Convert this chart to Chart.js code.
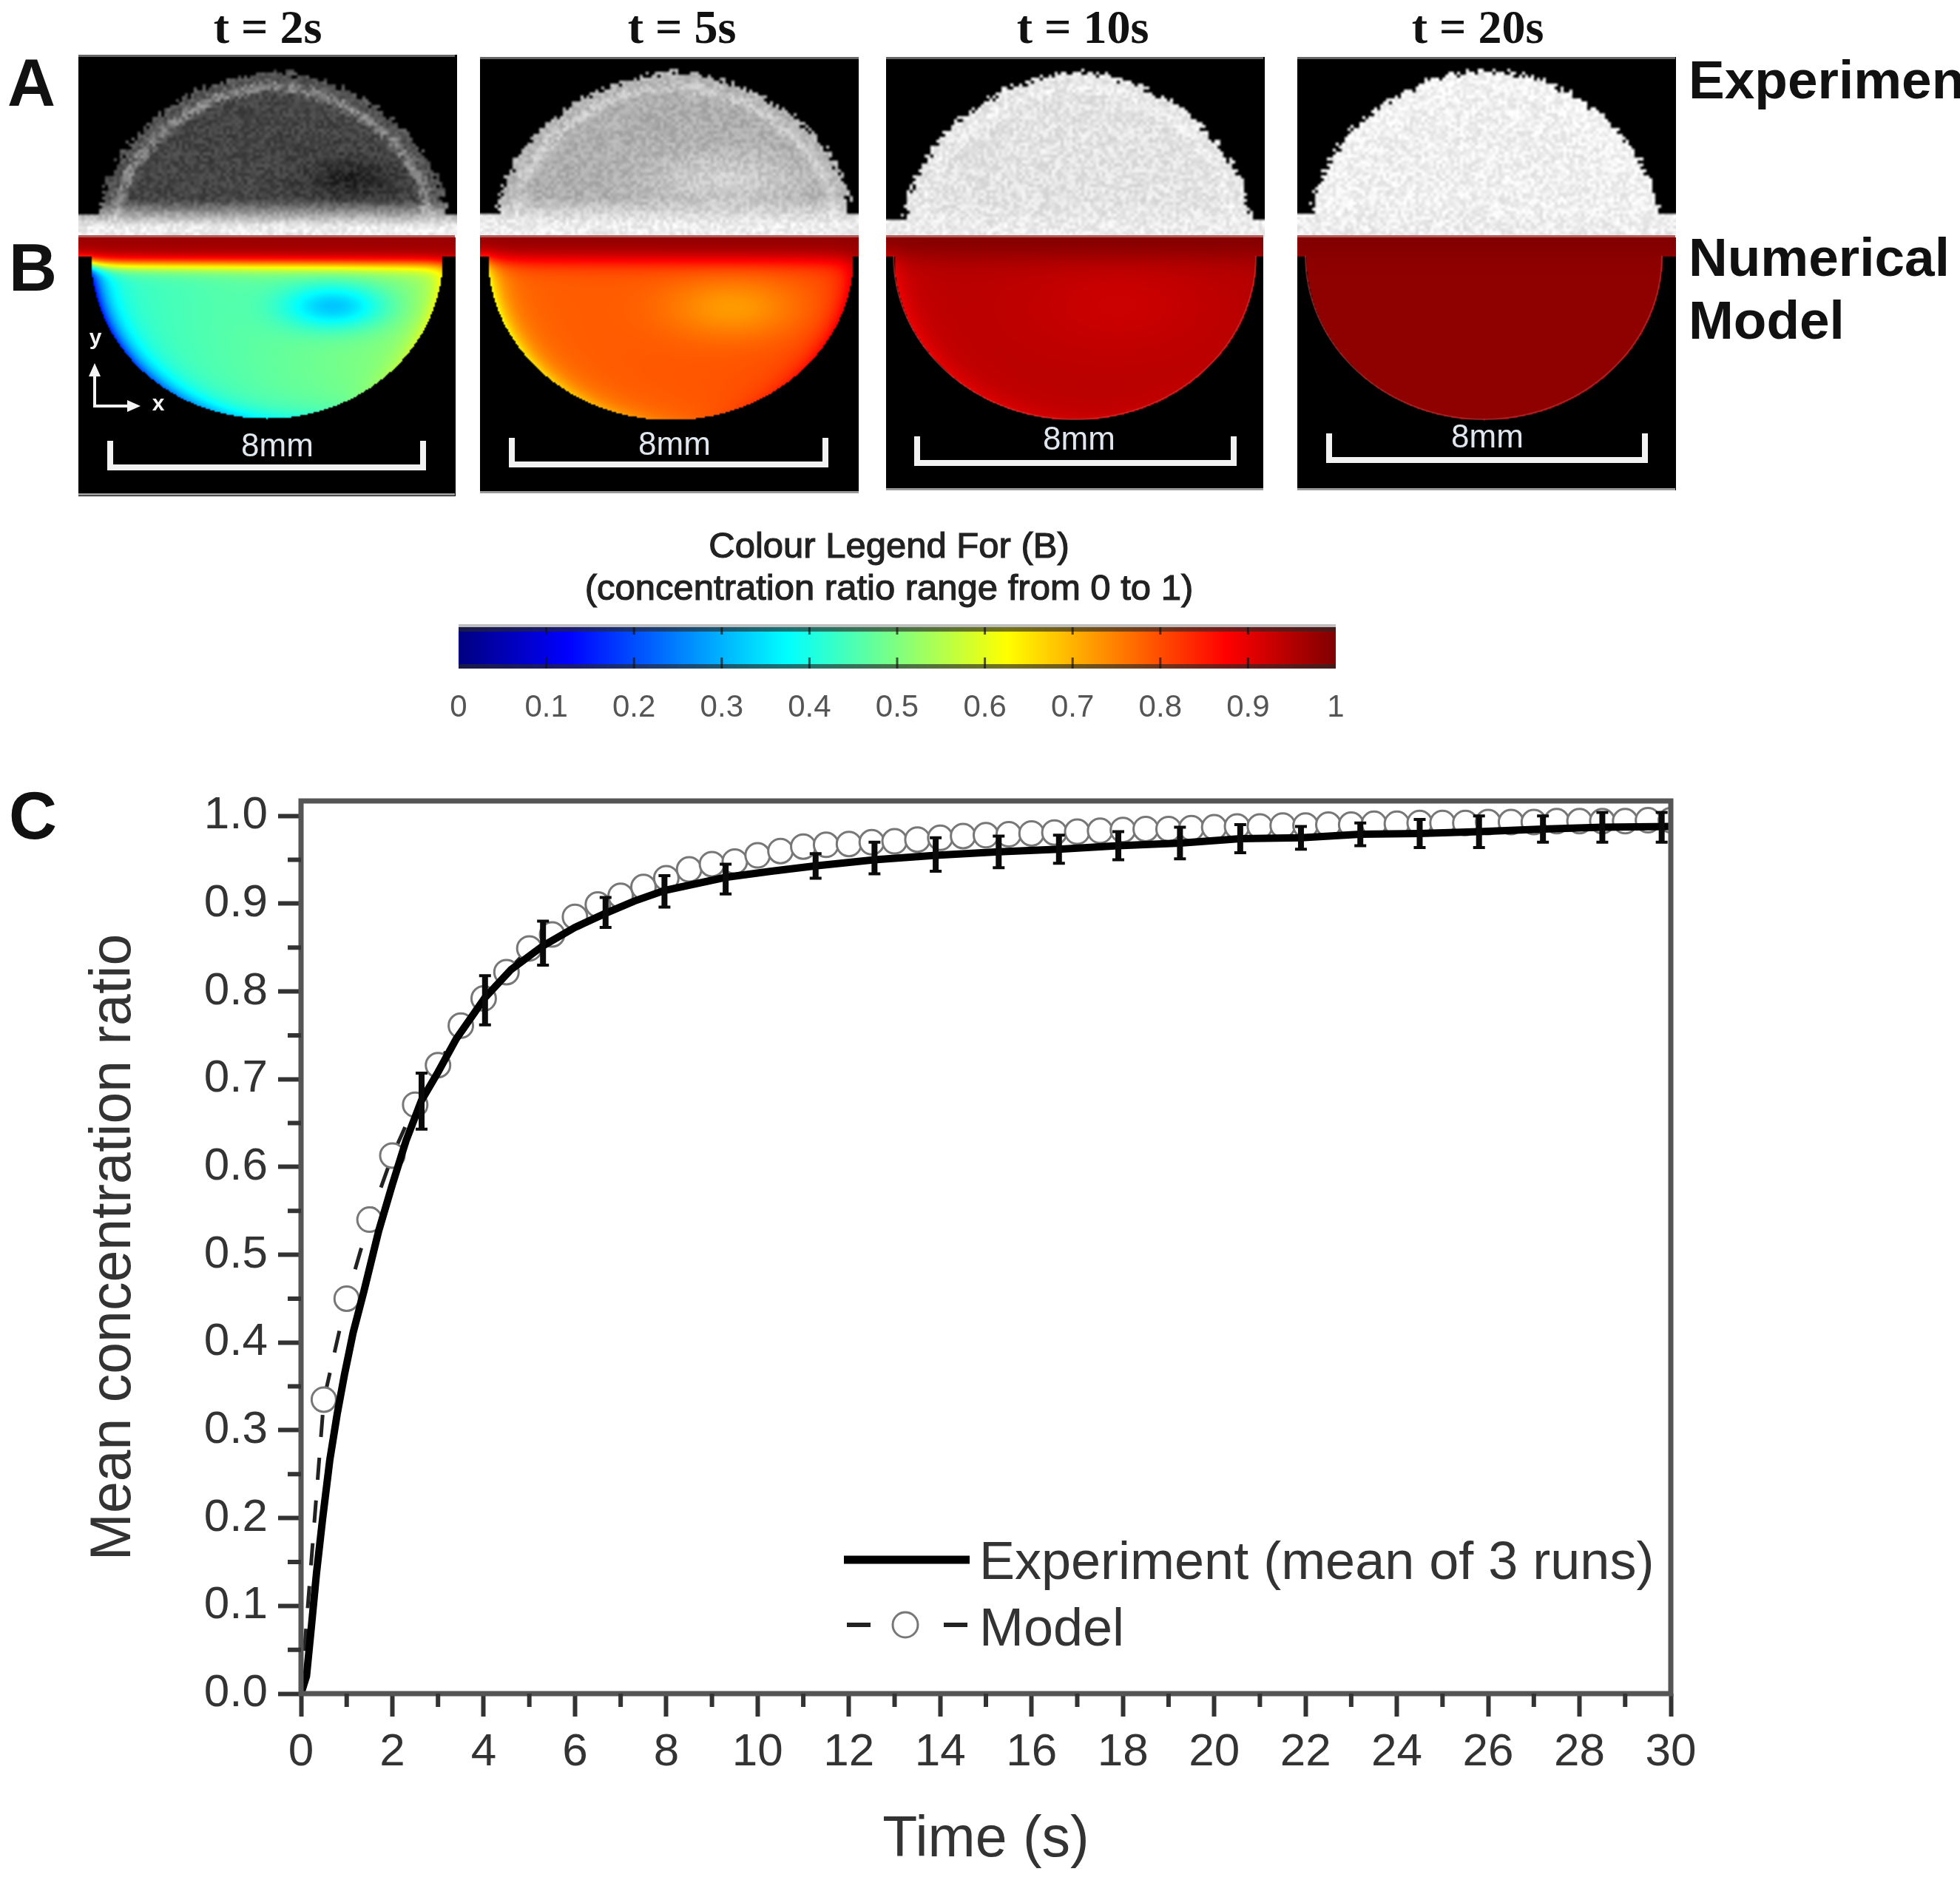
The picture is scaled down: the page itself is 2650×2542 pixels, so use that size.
<!DOCTYPE html>
<html>
<head>
<meta charset="utf-8">
<title>Mean concentration ratio</title>
<script src="https://cdn.jsdelivr.net/npm/chart.js@4"></script>
<style>
    html, body { margin: 0; padding: 0; background: #fff; }
    #wrap { position: relative; width: 2650px; height: 2542px; overflow: hidden; }
    canvas { position: absolute; display: block; }
</style>
</head>
<body>
<div id="wrap">
    <canvas id="mainChart" width="2650" height="2542" style="left:0;top:0"></canvas>
    <canvas id="colourBar" width="1400" height="160" style="left:500px;top:830px"></canvas>
</div>
<script>
// Curve (panel C)
const experimentTimes = [0, 0.12, 0.23, 0.34, 0.47, 0.63, 0.79, 0.95, 1.14, 1.38, 1.7, 2, 2.3, 2.64, 3, 3.4, 4.03, 4.6, 5.3, 6, 6.67, 7.3, 7.96, 9.3, 10.3, 11.27, 12.56, 13.9, 15.28, 16.6, 17.9, 19.25, 20.57, 21.9, 23.2, 24.5, 25.8, 27.2, 28.5, 30];
const experimentValues = [0, 0.02, 0.078, 0.138, 0.198, 0.266, 0.318, 0.363, 0.411, 0.459, 0.527, 0.58, 0.63, 0.676, 0.708, 0.746, 0.793, 0.825, 0.852, 0.873, 0.889, 0.903, 0.915, 0.93, 0.937, 0.943, 0.95, 0.955, 0.959, 0.962, 0.966, 0.969, 0.974, 0.975, 0.979, 0.98, 0.982, 0.985, 0.987, 0.988];

const modelTimes = [0, 0.5, 1, 1.5, 2, 2.5, 3, 3.5, 4, 4.5, 5, 5.5, 6, 6.5, 7, 7.5, 8, 8.5, 9, 9.5, 10, 10.5, 11, 11.5, 12, 12.5, 13, 13.5, 14, 14.5, 15, 15.5, 16, 16.5, 17, 17.5, 18, 18.5, 19, 19.5, 20, 20.5, 21, 21.5, 22, 22.5, 23, 23.5, 24, 24.5, 25, 25.5, 26, 26.5, 27, 27.5, 28, 28.5, 29, 29.5, 30];
const modelValues = [0, 0.335, 0.45, 0.54, 0.613, 0.671, 0.716, 0.761, 0.792, 0.822, 0.849, 0.865, 0.885, 0.899, 0.909, 0.919, 0.929, 0.939, 0.945, 0.948, 0.955, 0.96, 0.965, 0.967, 0.968, 0.97, 0.971, 0.973, 0.975, 0.977, 0.978, 0.979, 0.98, 0.981, 0.982, 0.983, 0.984, 0.985, 0.985, 0.986, 0.987, 0.988, 0.988, 0.989, 0.989, 0.99, 0.99, 0.991, 0.991, 0.992, 0.992, 0.992, 0.993, 0.993, 0.993, 0.994, 0.994, 0.994, 0.994, 0.995, 0.995];

const errorTimes = [2.64, 4.03, 5.3, 6.67, 7.96, 9.3, 11.27, 12.56, 13.9, 15.28, 16.6, 17.9, 19.25, 20.57, 21.9, 23.2, 24.5, 25.8, 27.2, 28.5, 29.8];
const errorMeans = [0.675, 0.79, 0.855, 0.89, 0.914, 0.928, 0.943, 0.952, 0.956, 0.959, 0.962, 0.966, 0.969, 0.974, 0.975, 0.979, 0.98, 0.982, 0.985, 0.987, 0.987];
const errorHalves = [0.032, 0.028, 0.025, 0.017, 0.018, 0.017, 0.014, 0.018, 0.019, 0.018, 0.016, 0.016, 0.018, 0.016, 0.013, 0.013, 0.016, 0.018, 0.015, 0.017, 0.017];

// Axis ticks
const xTickValues = [0, 2, 4, 6, 8, 10, 12, 14, 16, 18, 20, 22, 24, 26, 28, 30];
const xMinorValues = [1, 3, 5, 7, 9, 11, 13, 15, 17, 19, 21, 23, 25, 27, 29];
const yTickValues = [0, 0.1, 0.2, 0.3, 0.4, 0.5, 0.6, 0.7, 0.8, 0.9, 1];
const yMinorValues = [0.05, 0.15, 0.25, 0.35, 0.45, 0.55, 0.65, 0.75, 0.85, 0.95];

// Colour legend
const colourTicks = [0, 0.1, 0.2, 0.3, 0.4, 0.5, 0.6, 0.7, 0.8, 0.9, 1];
const jetStops = [0, 0.125, 0.375, 0.625, 0.875, 1];
const jetColours = ['#000080', '#0000ff', '#00ffff', '#ffff00', '#ff0000', '#800000'];

// Image panels A and B, one entry per time
const panelTitles = ['t = 2s', 't = 5s', 't = 10s', 't = 20s'];
const experimentLevels = [0.27, 0.68, 0.89, 0.94];
const modelLevels = [0.47, 0.79, 0.945, 0.985];

const FONT = '"Liberation Sans", Arial, sans-serif';

// Small helpers for the images
function hash(x, y) {
    const s = Math.sin(x * 12.9898 + y * 78.233) * 43758.5453;
    return s - Math.floor(s);
}
function clamp(v, a, b) { return Math.max(a, Math.min(b, v)); }
function gauss(x, y, cx, cy, sx, sy) {
    return Math.exp(-((x - cx) * (x - cx)) / (2 * sx * sx) - ((y - cy) * (y - cy)) / (2 * sy * sy));
}
function jet(v) {
    const rgb = [[0, 0, 128], [0, 0, 255], [0, 255, 255], [255, 255, 0], [255, 0, 0], [128, 0, 0]];
    v = clamp(v, 0, 1);
    let i = 0;
    while (i < jetStops.length - 2 && v > jetStops[i + 1]) i++;
    const t = (v - jetStops[i]) / (jetStops[i + 1] - jetStops[i]);
    return rgb[i].map((c, k) => c + (rgb[i + 1][k] - c) * t);
}

// Paint a field on a coarse grid and scale it up, so it looks like the blurry source
function paintField(ctx, left, top, w, h, cell, fn) {
    const off = document.createElement('canvas');
    off.width = Math.ceil(w / cell);
    off.height = Math.ceil(h / cell);
    const octx = off.getContext('2d');
    const img = octx.createImageData(off.width, off.height);
    for (let j = 0; j < off.height; j++) {
        for (let i = 0; i < off.width; i++) {
            const c = fn(left + i * cell, top + j * cell);
            const p = (j * off.width + i) * 4;
            img.data[p] = c[0]; img.data[p + 1] = c[1]; img.data[p + 2] = c[2]; img.data[p + 3] = 255;
        }
    }
    octx.putImageData(img, 0, 0);
    ctx.imageSmoothingEnabled = true;
    ctx.imageSmoothingQuality = 'high';
    ctx.drawImage(off, left, top, off.width * cell, off.height * cell);
}

function drawExperimentPanel(ctx, g, k) {
    const L = experimentLevels[k];
    const p = 1.8;
    paintField(ctx, g.left, g.top, g.right - g.left, 318 - g.top, 4, (x, y) => {
        const nx = Math.abs(x - g.ax) / g.aw;
        const ny = Math.max((g.base - y) / g.ah, 0);
        const r = Math.pow(Math.pow(nx, p) + Math.pow(ny, p), 1 / p) + (hash(x, y) - 0.5) * 0.05;
        if (y < g.base && r > 1) return [0, 0, 0];
        const d = Math.max(1 - r, 0);
        let v = L;
        v += (1 - L) * 0.38 * Math.exp(-Math.pow((d - 0.1) / 0.03, 2));
        v += (1 - L) * 0.12 * Math.exp(-d / 0.05);
        v += g.spotA * gauss(x, y, g.spotAx, g.spotAy, g.spotAw, g.spotAh);
        const fade = clamp((y - g.base + 22) / 36, 0, 1);
        v = v * (1 - fade) + 0.93 * fade;
        v += (hash(x + 7, y + 3) - 0.5) * 0.14;
        const c = clamp(v, 0, 1) * 255;
        return [c, c, c];
    });
}

function drawModelPanel(ctx, g, k) {
    const L = modelLevels[k];
    paintField(ctx, g.left, 321, g.right - g.left, g.bottom - 321, 2, (x, y) => {
        const nx = (x - g.bx) / g.bw;
        const ny = (y - 346) / g.bh;
        const r = Math.sqrt(nx * nx + Math.max(ny, 0) * Math.max(ny, 0));
        if (y >= 346 && r > 1) return [0, 0, 0];
        const d = Math.max(1 - r, 0);
        const e = Math.exp(-d / 0.07);
        let v = L + g.tilt * nx;
        v = v * (1 - e) + (g.edge + g.edgeTilt * nx) * e;
        v += g.spotB * gauss(x, y, g.spotBx, g.spotBy, g.spotBw, g.spotBh);
        const s = 1 / (1 + Math.exp((y - g.stripY) / g.stripW));
        v = v * (1 - s) + g.stripTop * s;
        return jet(v);
    });
    // thin outline of the drop
    ctx.strokeStyle = g.outline;
    ctx.lineWidth = 2;
    ctx.beginPath();
    ctx.ellipse(g.bx, 346, g.bw, g.bh, 0, 0, Math.PI);
    ctx.stroke();
}

function drawScaleBar(ctx, g) {
    ctx.strokeStyle = '#f2f2f2';
    ctx.lineWidth = 8;
    ctx.lineJoin = 'miter';
    ctx.beginPath();
    ctx.moveTo(g.barL, g.barBottom - 40);
    ctx.lineTo(g.barL, g.barBottom - 4);
    ctx.lineTo(g.barR, g.barBottom - 4);
    ctx.lineTo(g.barR, g.barBottom - 40);
    ctx.stroke();
    ctx.fillStyle = '#dfe6ee';
    ctx.font = '44px ' + FONT;
    ctx.textAlign = 'center';
    ctx.textBaseline = 'middle';
    ctx.fillText('8mm', g.barText, g.barTextY);
}

function drawPanels(ctx) {
    const boxes = [
        { left: 106, right: 615, top: 74, bottom: 670, ax: 367, aw: 234, ah: 194, base: 290, bx: 360, bw: 238, bh: 219,
          spotA: -0.13, spotAx: 473, spotAy: 240, spotAw: 42, spotAh: 18,
          spotB: -0.17, spotBx: 452, spotBy: 413, spotBw: 50, spotBh: 22,
          tilt: 0.05, edge: 0.37, edgeTilt: 0.25, stripY: 356, stripW: 6, stripTop: 0.975, outline: 'rgba(0,0,0,0)',
          barL: 149, barR: 572, barBottom: 636, barText: 375, barTextY: 605, titleX: 362 },
        { left: 649, right: 1161, top: 77, bottom: 667, ax: 910, aw: 238, ah: 190, base: 286, bx: 906, bw: 247, bh: 221,
          spotA: 0.14, spotAx: 978, spotAy: 243, spotAw: 70, spotAh: 26,
          spotB: -0.07, spotBx: 991, spotBy: 415, spotBw: 65, spotBh: 30,
          tilt: 0.01, edge: 0.76, edgeTilt: 0.14, stripY: 350, stripW: 8, stripTop: 0.985, outline: 'rgba(0,0,0,0)',
          barL: 692, barR: 1116, barBottom: 632, barText: 912, barTextY: 603, titleX: 922 },
        { left: 1198, right: 1708, top: 77, bottom: 663, ax: 1455, aw: 233, ah: 200, base: 296, bx: 1453, bw: 245, bh: 221,
          spotA: 0, spotAx: 1450, spotAy: 230, spotAw: 80, spotAh: 30,
          spotB: -0.02, spotBx: 1515, spotBy: 410, spotBw: 90, spotBh: 50,
          tilt: 0.003, edge: 0.92, edgeTilt: 0.03, stripY: 345, stripW: 10, stripTop: 1, outline: 'rgba(210,70,70,0.45)',
          barL: 1240, barR: 1668, barBottom: 630, barText: 1459, barTextY: 596, titleX: 1464 },
        { left: 1754, right: 2265, top: 77, bottom: 663, ax: 2006, aw: 233, ah: 194, base: 287, bx: 2006, bw: 241, bh: 221,
          spotA: 0, spotAx: 2000, spotAy: 230, spotAw: 80, spotAh: 30,
          spotB: 0, spotBx: 2000, spotBy: 410, spotBw: 80, spotBh: 40,
          tilt: 0, edge: 0.985, edgeTilt: 0, stripY: 340, stripW: 10, stripTop: 1, outline: 'rgba(210,70,70,0.45)',
          barL: 1797, barR: 2224, barBottom: 626, barText: 2011, barTextY: 593, titleX: 1998 }
    ];

    boxes.forEach((g, k) => {
        drawExperimentPanel(ctx, g, k);
        drawModelPanel(ctx, g, k);
        ctx.fillStyle = '#b25a5a';
        ctx.fillRect(g.left, 318, g.right - g.left, 3);
        ctx.fillStyle = '#666';
        ctx.fillRect(g.left, g.top, g.right - g.left, 3);
        ctx.fillStyle = '#999';
        ctx.fillRect(g.left, g.bottom - 3, g.right - g.left, 3);
        drawScaleBar(ctx, g);
        ctx.fillStyle = '#111';
        ctx.font = 'bold 64px "Liberation Serif", serif';
        ctx.textAlign = 'center';
        ctx.textBaseline = 'alphabetic';
        ctx.fillText(panelTitles[k], g.titleX, 58);
    });

    // x/y arrows in the first model panel
    ctx.strokeStyle = ctx.fillStyle = '#f4f4f4';
    ctx.lineWidth = 4;
    ctx.beginPath();
    ctx.moveTo(128, 505); ctx.lineTo(128, 549); ctx.lineTo(175, 549);
    ctx.stroke();
    ctx.beginPath();
    ctx.moveTo(128, 491); ctx.lineTo(120, 509); ctx.lineTo(136, 509); ctx.closePath();
    ctx.moveTo(190, 549); ctx.lineTo(172, 541); ctx.lineTo(172, 557); ctx.closePath();
    ctx.fill();
    ctx.font = 'bold 30px ' + FONT;
    ctx.textAlign = 'center';
    ctx.textBaseline = 'middle';
    ctx.fillText('y', 129, 458);
    ctx.fillText('x', 214, 547);
}

function drawFigureText(ctx) {
    ctx.fillStyle = '#111';
    ctx.textAlign = 'left';
    ctx.textBaseline = 'alphabetic';
    ctx.font = 'bold 90px ' + FONT;
    ctx.fillText('A', 10, 143);
    ctx.fillText('B', 12, 393);
    ctx.fillText('C', 12, 1134);
    ctx.font = 'bold 73px ' + FONT;
    ctx.fillText('Experiment', 2283, 133);
    ctx.fillText('Numerical', 2283, 373);
    ctx.fillText('Model', 2283, 458);

    ctx.fillStyle = '#222';
    ctx.textAlign = 'center';
    ctx.font = '49px ' + FONT;
    ctx.strokeStyle = '#222';
    ctx.lineWidth = 1.2;
    ctx.fillText('Colour Legend For (B)', 1202, 754);
    ctx.strokeText('Colour Legend For (B)', 1202, 754);
    ctx.fillText('(concentration ratio range from 0 to 1)', 1202, 811);
    ctx.strokeText('(concentration ratio range from 0 to 1)', 1202, 811);
}

// Everything in panel C the library has no element for
const panelCPlugin = {
    id: 'panelC',
    beforeDraw(chart) {
        const ctx = chart.ctx;
        ctx.save();
        ctx.fillStyle = '#fff';
        ctx.fillRect(0, 0, chart.width, chart.height);
        drawPanels(ctx);
        drawFigureText(ctx);
        ctx.restore();
    },
    afterDatasetsDraw(chart) {
        const ctx = chart.ctx;
        const x = chart.scales.x;
        const y = chart.scales.y;
        ctx.save();
        // error bars
        ctx.strokeStyle = '#0a0a0a';
        errorTimes.forEach((t, i) => {
            const px = x.getPixelForValue(t);
            const hi = y.getPixelForValue(errorMeans[i] + errorHalves[i]);
            const lo = y.getPixelForValue(errorMeans[i] - errorHalves[i]);
            ctx.lineWidth = 8;
            ctx.beginPath();
            ctx.moveTo(px, hi);
            ctx.lineTo(px, lo);
            ctx.stroke();
            ctx.lineWidth = 4;
            ctx.beginPath();
            ctx.moveTo(px - 8, hi); ctx.lineTo(px + 8, hi);
            ctx.moveTo(px - 8, lo); ctx.lineTo(px + 8, lo);
            ctx.stroke();
        });
        ctx.restore();
    },
    afterDraw(chart) {
        const ctx = chart.ctx;
        const a = chart.chartArea;
        const x = chart.scales.x;
        const y = chart.scales.y;
        ctx.save();
        // frame
        ctx.strokeStyle = '#555';
        ctx.lineWidth = 7;
        ctx.strokeRect(a.left, a.top, a.right - a.left, a.bottom - a.top);
        // minor ticks
        ctx.strokeStyle = '#333';
        ctx.lineWidth = 6;
        ctx.beginPath();
        xMinorValues.forEach(v => {
            const px = x.getPixelForValue(v);
            ctx.moveTo(px, a.bottom);
            ctx.lineTo(px, a.bottom + 18);
        });
        yMinorValues.forEach(v => {
            const py = y.getPixelForValue(v);
            ctx.moveTo(a.left, py);
            ctx.lineTo(a.left - 18, py);
        });
        ctx.stroke();
        // legend
        const lineY = 2109;
        const modelY = 2197;
        ctx.strokeStyle = '#000';
        ctx.lineWidth = 11;
        ctx.beginPath();
        ctx.moveTo(1141, lineY);
        ctx.lineTo(1311, lineY);
        ctx.stroke();
        ctx.lineWidth = 6;
        ctx.strokeStyle = '#222';
        ctx.beginPath();
        ctx.moveTo(1145, modelY); ctx.lineTo(1177, modelY);
        ctx.moveTo(1276, modelY); ctx.lineTo(1308, modelY);
        ctx.stroke();
        ctx.strokeStyle = '#777';
        ctx.lineWidth = 3;
        ctx.beginPath();
        ctx.arc(1224, modelY, 17, 0, Math.PI * 2);
        ctx.stroke();
        ctx.fillStyle = '#333';
        ctx.font = '72px ' + FONT;
        ctx.textAlign = 'left';
        ctx.textBaseline = 'alphabetic';
        ctx.fillText('Experiment (mean of 3 runs)', 1324, 2135);
        ctx.fillText('Model', 1324, 2225);
        ctx.restore();
    }
};

new Chart(document.getElementById('mainChart'), {
    type: 'line',
    data: {
        datasets: [
            {
                label: 'Experiment (mean of 3 runs)',
                data: experimentTimes.map((t, i) => ({ x: t, y: experimentValues[i] })),
                borderColor: '#000',
                borderWidth: 10,
                pointRadius: 0,
                tension: 0,
                order: 1
            },
            {
                label: 'Model',
                data: modelTimes.map((t, i) => ({ x: t, y: modelValues[i] })),
                borderColor: '#222',
                borderWidth: 5,
                borderDash: [30, 28],
                pointRadius: ctx => ctx.dataIndex === 0 ? 0 : 16.5,
                pointBackgroundColor: '#fff',
                pointBorderColor: '#777',
                pointBorderWidth: 3,
                tension: 0,
                order: 2
            }
        ]
    },
    options: {
        responsive: false,
        devicePixelRatio: 1,
        animation: false,
        layout: { padding: { top: 1083, right: 391, left: 0, bottom: 0 } },
        plugins: { legend: { display: false }, tooltip: { enabled: false } },
        scales: {
            x: {
                type: 'linear',
                min: 0,
                max: 30,
                afterFit: scale => { scale.height = 252; },
                afterBuildTicks: scale => { scale.ticks = xTickValues.map(v => ({ value: v })); },
                grid: { drawOnChartArea: false, tickLength: 31, tickWidth: 6, tickColor: '#333', drawTicks: true },
                border: { display: false },
                ticks: {
                    autoSkip: false,
                    maxRotation: 0,
                    padding: 12,
                    color: '#333',
                    font: { family: FONT, size: 62 }
                },
                title: {
                    display: true,
                    text: 'Time (s)',
                    color: '#333',
                    font: { family: FONT, size: 77 },
                    padding: { top: 0, bottom: 7 }
                }
            },
            y: {
                type: 'linear',
                min: 0,
                max: 1.017,
                afterFit: scale => { scale.width = 407; },
                afterBuildTicks: scale => { scale.ticks = yTickValues.map(v => ({ value: v })); },
                grid: { drawOnChartArea: false, tickLength: 31, tickWidth: 6, tickColor: '#333', drawTicks: true },
                border: { display: false },
                ticks: {
                    autoSkip: false,
                    padding: 14,
                    color: '#333',
                    font: { family: FONT, size: 62 },
                    callback: v => v.toFixed(1)
                },
                title: {
                    display: true,
                    text: 'Mean concentration ratio',
                    color: '#333',
                    font: { family: FONT, size: 77 },
                    padding: { top: 109, bottom: 0 }
                }
            }
        }
    },
    plugins: [panelCPlugin]
});

// Colour legend for panel B, its own small chart so the ticks come from a scale
const colourBarPlugin = {
    id: 'colourBarMarks',
    afterDraw(chart) {
        const ctx = chart.ctx;
        const a = chart.chartArea;
        const x = chart.scales.x;
        ctx.save();
        ctx.fillStyle = 'rgba(190,190,190,1)';
        ctx.fillRect(a.left, a.top - 3, a.right - a.left, 4);
        ctx.fillStyle = 'rgba(40,40,40,0.65)';
        ctx.fillRect(a.left, a.top + 1, a.right - a.left, 6);
        ctx.fillRect(a.left, a.bottom - 6, a.right - a.left, 6);
        ctx.fillStyle = 'rgba(20,20,20,0.7)';
        colourTicks.slice(1, -1).forEach(v => {
            const px = x.getPixelForValue(v);
            ctx.fillRect(px - 1.5, a.top + 1, 3, 10);
            ctx.fillRect(px - 1.5, a.bottom - 15, 3, 15);
        });
        ctx.restore();
    }
};

new Chart(document.getElementById('colourBar'), {
    type: 'bar',
    data: {
        labels: ['ratio'],
        datasets: [{
            data: [[colourTicks[0], colourTicks[colourTicks.length - 1]]],
            barPercentage: 1,
            categoryPercentage: 1,
            backgroundColor: ctx => {
                const a = ctx.chart.chartArea;
                if (!a) return '#000';
                const grad = ctx.chart.ctx.createLinearGradient(a.left, 0, a.right, 0);
                jetStops.forEach((s, i) => grad.addColorStop(s, jetColours[i]));
                return grad;
            }
        }]
    },
    options: {
        indexAxis: 'y',
        responsive: false,
        devicePixelRatio: 1,
        animation: false,
        layout: { padding: { top: 17, left: 0, right: 94, bottom: 0 } },
        plugins: { legend: { display: false }, tooltip: { enabled: false } },
        scales: {
            y: {
                display: true,
                grid: { display: false },
                border: { display: false },
                ticks: { display: false },
                afterFit: scale => { scale.width = 120; }
            },
            x: {
                min: 0,
                max: 1,
                afterFit: scale => { scale.height = 86; },
                afterBuildTicks: scale => { scale.ticks = colourTicks.map(v => ({ value: v })); },
                grid: { display: false },
                border: { display: false },
                ticks: {
                    autoSkip: false,
                    maxRotation: 0,
                    padding: 20,
                    color: '#555',
                    font: { family: FONT, size: 42 },
                    callback: v => String(v)
                }
            }
        }
    },
    plugins: [colourBarPlugin]
});
</script>
</body>
</html>
